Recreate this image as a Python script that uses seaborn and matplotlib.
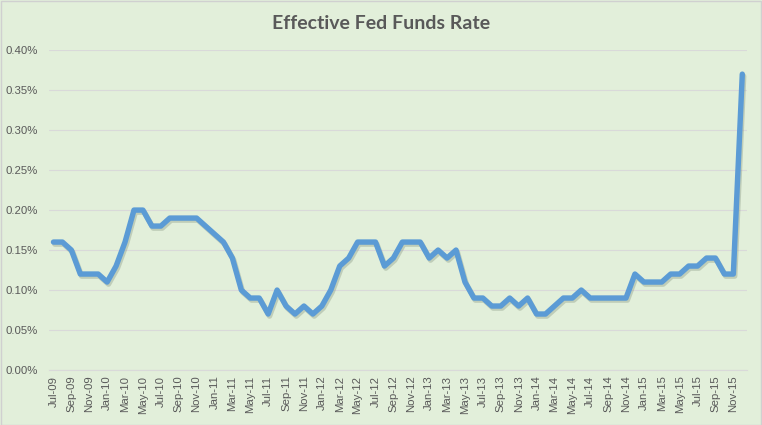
import matplotlib
matplotlib.use("Agg")
import matplotlib.pyplot as plt
import matplotlib.patheffects as pe
from matplotlib.ticker import FixedLocator, FuncFormatter
import seaborn as sns
import pandas as pd

# monthly effective fed funds rate, Jul-09 .. Dec-15 (percent)
months = pd.date_range("2009-07-01", "2015-12-01", freq="MS").strftime("%b-%y").tolist()
rates = [
    0.16, 0.16, 0.15, 0.12, 0.12, 0.12,                                # 2009 H2
    0.11, 0.13, 0.16, 0.20, 0.20, 0.18, 0.18, 0.19, 0.19, 0.19, 0.19, 0.18,  # 2010
    0.17, 0.16, 0.14, 0.10, 0.09, 0.09, 0.07, 0.10, 0.08, 0.07, 0.08, 0.07,  # 2011
    0.08, 0.10, 0.13, 0.14, 0.16, 0.16, 0.16, 0.13, 0.14, 0.16, 0.16, 0.16,  # 2012
    0.14, 0.15, 0.14, 0.15, 0.11, 0.09, 0.09, 0.08, 0.08, 0.09, 0.08, 0.09,  # 2013
    0.07, 0.07, 0.08, 0.09, 0.09, 0.10, 0.09, 0.09, 0.09, 0.09, 0.09, 0.12,  # 2014
    0.11, 0.11, 0.11, 0.12, 0.12, 0.13, 0.13, 0.14, 0.14, 0.12, 0.12, 0.37,  # 2015
]
y_ticks = [0.00, 0.05, 0.10, 0.15, 0.20, 0.25, 0.30, 0.35, 0.40]

df = pd.DataFrame({"idx": range(len(months)), "month": months, "rate": rates})

bg = "#E2EFDA"
grid_col = "#D9D9D9"
text_col = "#595959"

sns.set_style("white")
plt.rcParams["font.family"] = ["Liberation Sans", "DejaVu Sans"]

fig = plt.figure(figsize=(7.62, 4.25), dpi=100, facecolor=bg)
ax = fig.add_axes([0.0643, 0.1294, 0.9157, 0.7526])
ax.set_facecolor(bg)

sns.lineplot(data=df, x="idx", y="rate", ax=ax, color="#5B9BD5", linewidth=3.9,
             solid_capstyle="round", solid_joinstyle="round",
             path_effects=[pe.SimpleLineShadow(offset=(1, -1.5), shadow_color="#7f8f7a", alpha=0.35),
                           pe.Normal()])

ax.set_xlim(-0.5, len(months) - 0.5)
ax.set_ylim(0, 0.40)
ax.set_yticks(y_ticks)
ax.yaxis.set_major_formatter(FuncFormatter(lambda v, p: f"{v:.2f}%"))
ax.yaxis.grid(True, color=grid_col, linewidth=0.8)
ax.set_axisbelow(True)

ax.set_xticks(df["idx"][::2])
ax.set_xticklabels(df["month"][::2], rotation=90)
ax.xaxis.set_minor_locator(FixedLocator([i - 0.5 for i in range(0, len(months) + 1, 2)]))
ax.tick_params(axis="x", which="major", length=0, pad=4, labelsize=8.2, labelcolor=text_col)
ax.tick_params(axis="x", which="minor", length=4, color=grid_col, width=0.8)
ax.tick_params(axis="y", length=0, pad=8, labelsize=8.2, labelcolor=text_col)

for s in ["top", "right", "left"]:
    ax.spines[s].set_visible(False)
ax.spines["bottom"].set_color(grid_col)
ax.spines["bottom"].set_linewidth(0.8)

ax.set_xlabel("")
ax.set_ylabel("")
fig.text(0.5, 0.945, "Effective Fed Funds Rate", ha="center", va="center",
         fontsize=14, fontweight="bold", color=text_col, family=["Lato", "DejaVu Sans"])

# thin chart border
fig.patches.append(plt.Rectangle((0.001, 0.001), 0.998, 0.997, transform=fig.transFigure,
                                 fill=False, edgecolor="#D0D0D0", linewidth=1))

fig.savefig("out.png", dpi=100, facecolor=bg)
